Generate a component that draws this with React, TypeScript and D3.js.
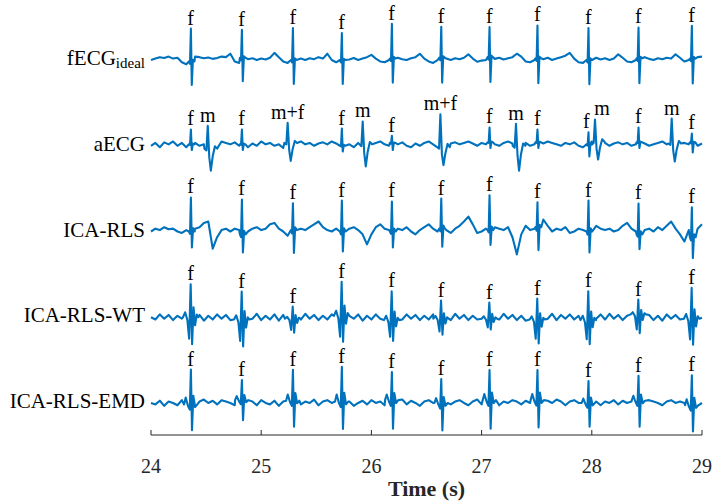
import React from 'react';
import * as d3 from 'd3';

// ---------- data ----------
const rowLabels = ['fECG', 'aECG', 'ICA-RLS', 'ICA-RLS-WT', 'ICA-RLS-EMD'];
const rowSubscripts = ['ideal', '', '', '', ''];
const timeTicks = [24, 25, 26, 27, 28, 29];
const xTitle = 'Time (s)';

const SAMPLE_START = 24;
const SAMPLE_STEP = 0.04;

// fetal R-peak times (s)
const fetalBeats = [24.36, 24.823, 25.286, 25.73, 26.184, 26.632, 27.07, 27.505, 27.968, 28.422, 28.906];
// maternal R-peak times (s) in the abdominal ECG
const maternalBeats = [24.515, 25.24, 25.921, 26.626, 27.312, 28.029, 28.725];
const maternalLabels = ['m', 'm+f', 'm', 'm+f', 'm', 'm', 'm'];

// R / S amplitudes (a.u.)
const idealUp = [1.15, 0.98, 1.12, 0.94, 1.22, 1.08, 1.05, 1.15, 1.12, 1.08, 1.15];
const idealDown = [0.82, 0.82, 0.84, 0.84, 0.84, 0.87, 0.87, 0.87, 0.85, 0.87, 0.87];
const aecgFetalUp = [0.52, 0.52, 0, 0.6, 0.25, 0, 0.52, 0.45, 0.42, 0.52, 0.31];
const aecgFetalDown = [0.2, 0.2, 0, 0.2, 0.25, 0, 0.2, 0.2, 0.42, 0.2, 0.35];
const aecgMaternalUp = [0.8, 0.7, 0.8, 1.15, 0.77, 0.77, 0.87];
const aecgMaternalDown = [0.77, 0.63, 0.77, 0.63, 0.87, 0.63, 0.63];
const rlsUp = [1.19, 1.22, 0.94, 1.08, 1.05, 1.05, 1.22, 0.87, 1.08, 1.08, 1.05];
const rlsDown = [0.56, 0.63, 0.8, 0.7, 0.56, 0.63, 0.52, 0.8, 0.73, 0.52, 0.73];
const wtUp = [1.15, 0.98, 0.42, 1.19, 1.01, 0.63, 0.56, 0.73, 1.01, 0.52, 1.08];
const wtDown = [0.94, 0.94, 0.49, 0.91, 0.73, 0.56, 0.38, 0.84, 0.84, 0.66, 0.91];
const emdUp = [1.22, 0.7, 1.08, 1.22, 0.98, 0.84, 1.05, 1.05, 0.77, 0.87, 1.05];
const emdDown = [0.9, 0.7, 0.91, 0.96, 1.0, 0.96, 1.0, 0.96, 0.83, 0.91, 0.92];

// complex shapes: [time offset (s), R weight, S weight]
const qrsIdeal = [[-0.016, 0, 0], [-0.006, 0, 0.1], [0.002, 1, 0], [0.01, 0, 1], [0.02, 0.05, 0], [0.034, 0, 0]];
const qrsMaternal = [[-0.03, 0, 0], [-0.012, 0, 0.08], [0, 1, 0], [0.014, 0, 0.4], [0.028, 0, 1], [0.045, 0, 0.35], [0.065, 0.1, 0], [0.085, 0, 0]];
const qrsRls = [[-0.016, 0, 0], [-0.006, 0, 0.15], [0.002, 1, 0], [0.011, 0, 1], [0.022, 0.1, 0], [0.036, 0, 0]];
const qrsWt = [[-0.07, 0, 0], [-0.05, 0.15, 0], [-0.03, 0, 0.1], [-0.014, 0, 0.8], [0, 1, 0], [0.013, 0, 1], [0.026, 0.3, 0], [0.04, 0, 0.3], [0.055, 0.08, 0], [0.07, 0, 0]];
const qrsEmd = [[-0.06, 0, 0], [-0.045, 0.2, 0], [-0.025, 0, 0.05], [-0.008, 0, 0.2], [0.002, 1, 0], [0.012, 0, 1], [0.024, 0.25, 0], [0.04, 0, 0.1], [0.06, 0, 0]];

// background activity sampled every 0.04 s from 24 s (a.u.)
const idealBase = [
  0.00, 0.05, 0.10, 0.07, 0.12, 0.05, 0.08, -0.08, -0.15, -0.05,
  0.12, 0.10, 0.06, 0.09, 0.04, 0.07, 0.12, 0.10, 0.22, -0.05,
  -0.10, 0.08, 0.03, 0.06, 0.00, 0.05, 0.02, 0.08, 0.25, 0.10,
  -0.05, -0.10, 0.00, 0.10, 0.05, 0.00, 0.06, 0.03, 0.10, 0.05,
  0.22, 0.00, -0.08, 0.00, 0.08, 0.02, 0.07, 0.00, 0.05, 0.10,
  0.18, 0.05, -0.05, -0.08, 0.00, 0.05, 0.08, 0.03, 0.00, 0.06,
  0.10, 0.22, 0.05, -0.05, -0.10, 0.00, 0.08, 0.05, 0.00, 0.06,
  0.03, 0.08, 0.20, 0.05, -0.06, -0.02, 0.00, 0.10, 0.04, 0.08,
  0.02, 0.06, 0.10, 0.22, 0.12, -0.05, -0.08, 0.00, 0.06, 0.03,
  0.08, 0.00, 0.05, 0.10, 0.15, 0.25, 0.05, -0.08, -0.10, 0.00,
  0.05, 0.08, 0.02, 0.06, 0.00, 0.05, 0.20, 0.08, -0.05, -0.08,
  0.00, 0.06, 0.10, 0.04, 0.00, 0.06, 0.03, 0.08, 0.05, 0.20,
  0.08, -0.05, 0.00, 0.05, 0.10, 0.12,
];
const aecgBase = [
  0.00, 0.10, -0.05, 0.12, 0.05, 0.15, 0.00, 0.10, -0.05, 0.05,
  0.10, 0.00, 0.05, -0.10, -0.05, 0.08, 0.15, 0.10, 0.05, 0.12,
  0.00, 0.05, -0.05, 0.08, 0.00, 0.15, 0.05, 0.10, 0.00, 0.05,
  -0.08, 0.10, 0.05, 0.08, 0.15, 0.05, 0.10, 0.00, 0.08, 0.12,
  0.05, 0.15, 0.08, 0.00, 0.10, 0.05, -0.05, 0.10, 0.05, 0.12,
  0.00, 0.10, 0.15, 0.05, 0.00, 0.10, 0.05, 0.12, 0.00, -0.05,
  0.08, 0.00, 0.10, 0.15, 0.05, 0.00, -0.05, 0.10, 0.08, 0.12,
  0.05, 0.10, 0.15, 0.08, 0.00, 0.10, 0.05, 0.12, 0.05, 0.00,
  0.10, 0.15, 0.08, 0.00, 0.05, 0.10, 0.00, 0.05, 0.12, 0.08,
  0.15, 0.10, 0.05, 0.00, 0.10, 0.05, 0.12, 0.00, -0.05, 0.05,
  0.10, 0.15, 0.05, 0.10, 0.00, 0.08, 0.12, 0.05, 0.10, 0.00,
  0.05, 0.12, 0.08, 0.00, 0.05, 0.10, 0.15, 0.05, 0.08, 0.00,
  -0.05, 0.10, 0.05, 0.12, 0.00, 0.08,
];
const rlsBase = [
  0.00, 0.10, 0.05, 0.15, 0.08, 0.10, 0.00, -0.05, 0.05, 0.00,
  0.10, 0.15, 0.30, 0.35, -0.60, -0.20, 0.05, 0.10, 0.00, 0.10,
  0.05, -0.10, 0.00, 0.10, 0.15, 0.05, 0.10, 0.25, 0.30, 0.10,
  0.00, -0.15, 0.05, 0.00, 0.10, 0.05, 0.15, 0.25, 0.35, 0.15,
  0.05, 0.00, 0.10, 0.00, 0.05, 0.10, 0.15, 0.05, -0.10, -0.45,
  -0.10, 0.15, 0.25, 0.10, 0.05, 0.00, 0.10, 0.05, 0.15, 0.00,
  -0.10, 0.05, 0.15, 0.25, 0.10, 0.00, 0.10, 0.05, -0.05, 0.10,
  0.20, 0.35, 0.52, 0.25, -0.05, 0.00, 0.10, 0.05, 0.15, 0.10,
  0.05, 0.15, -0.20, -0.80, -0.10, 0.20, 0.05, 0.10, 0.15, 0.42,
  0.20, 0.00, 0.10, 0.05, 0.15, -0.05, 0.00, 0.10, 0.05, 0.00,
  -0.15, 0.20, 0.10, 0.05, 0.10, 0.00, 0.05, 0.20, 0.30, 0.10,
  0.00, -0.10, 0.05, 0.10, 0.00, 0.15, 0.05, 0.20, 0.35, 0.10,
  -0.10, -0.35, 0.05, -0.20, 0.10, 0.25,
];
const wtBase = [
  0.00, -0.08, 0.10, -0.05, 0.08, -0.10, 0.05, -0.05, 0.10, 0.00,
  -0.10, 0.08, -0.12, 0.05, -0.08, 0.10, -0.05, 0.08, -0.10, 0.05,
  0.00, -0.08, 0.10, -0.05, 0.12, -0.10, 0.05, -0.08, 0.10, -0.12,
  0.08, 0.00, -0.05, 0.10, -0.08, 0.12, -0.05, 0.08, -0.10, 0.05,
  -0.08, 0.10, 0.00, 0.05, -0.10, 0.08, -0.05, 0.10, -0.12, 0.05,
  -0.08, 0.10, -0.05, 0.08, 0.00, -0.10, 0.05, -0.08, 0.10, -0.05,
  0.08, -0.10, 0.05, -0.08, 0.10, 0.00, -0.05, 0.08, -0.10, 0.12,
  -0.05, 0.08, -0.10, 0.05, -0.08, 0.10, 0.00, -0.05, 0.10, -0.08,
  0.12, -0.05, 0.08, -0.10, 0.05, -0.12, 0.10, 0.00, -0.08, 0.10,
  -0.05, 0.12, -0.10, 0.08, -0.05, 0.10, -0.08, 0.05, 0.00, -0.10,
  0.08, -0.05, 0.10, -0.08, 0.12, -0.05, 0.08, -0.10, 0.05, -0.08,
  0.00, 0.10, -0.05, 0.08, -0.10, 0.05, -0.12, 0.10, -0.05, 0.08,
  -0.08, 0.05, 0.00, -0.05, 0.10, -0.02,
];
const emdBase = [
  0.00, -0.05, 0.08, -0.10, 0.05, 0.00, -0.08, 0.10, 0.05, -0.05,
  0.10, 0.05, 0.12, 0.00, 0.08, -0.05, 0.10, 0.05, 0.00, -0.08,
  0.05, 0.10, 0.00, 0.05, -0.08, 0.10, 0.00, -0.05, 0.08, -0.10,
  0.05, 0.00, 0.08, 0.10, -0.05, 0.05, 0.00, 0.12, -0.08, 0.05,
  0.10, 0.00, -0.05, 0.05, 0.15, 0.05, -0.10, 0.00, 0.08, -0.05,
  0.10, 0.00, 0.05, -0.08, 0.00, 0.10, 0.05, 0.12, -0.05, 0.08,
  0.00, -0.10, 0.05, 0.10, 0.00, 0.05, 0.00, 0.08, -0.05, 0.05,
  0.10, 0.00, -0.08, 0.05, 0.12, -0.05, 0.00, 0.10, 0.05, -0.08,
  0.05, 0.00, 0.10, 0.05, -0.05, 0.08, 0.00, 0.05, 0.10, -0.05,
  0.08, 0.00, 0.12, 0.05, -0.08, 0.05, 0.10, 0.00, 0.05, 0.00,
  0.10, 0.05, -0.08, 0.05, 0.00, 0.10, -0.05, 0.08, 0.00, 0.05,
  0.00, 0.08, -0.05, 0.10, 0.05, 0.00, -0.08, 0.05, 0.10, 0.00,
  0.05, 0.00, 0.05, -0.08, 0.05, 0.00,
];

// ---------- helpers ----------
type Beat = { t: number; up: number; down: number; tpl: number[][]; label: string };

function makeBeats(times: number[], up: number[], down: number[], tpl: number[][], labels: string[] | string): Beat[] {
  return times.map((t, i) => ({
    t, up: up[i], down: down[i], tpl,
    label: typeof labels === 'string' ? labels : labels[i],
  }));
}

function buildTrace(base: number[], beats: Beat[]): [number, number][] {
  const active = beats.filter((b) => b.up > 0 || b.down > 0);
  const pts: [number, number][] = [];
  base.forEach((v, i) => {
    const t = SAMPLE_START + i * SAMPLE_STEP;
    const inside = active.some(
      (b) => t >= b.t + b.tpl[0][0] && t <= b.t + b.tpl[b.tpl.length - 1][0]
    );
    if (!inside) pts.push([t, v]);
  });
  active.forEach((b) => {
    const idx = Math.min(base.length - 1, Math.max(0, Math.round((b.t - SAMPLE_START) / SAMPLE_STEP)));
    const lvl = base[idx];
    b.tpl.forEach(([dt, uw, dw]) => pts.push([b.t + dt, lvl + uw * b.up - dw * b.down]));
  });
  pts.sort((a, b) => a[0] - b[0]);
  return pts.filter((p) => p[0] >= 24 && p[0] <= 29);
}

const ROW_GAP = 3;

export default function App() {
  const W = 713;
  const H = 502;
  const x = d3.scaleLinear().domain([24, 29]).range([151, 702]);
  const y = d3.scaleLinear().domain([-13.12, 2.1]).range([435, 0]);

  const rows = [
    { base: idealBase, beats: makeBeats(fetalBeats, idealUp, idealDown, qrsIdeal, 'f') },
    {
      base: aecgBase,
      beats: [
        ...makeBeats(fetalBeats, aecgFetalUp, aecgFetalDown, qrsIdeal, 'f'),
        ...makeBeats(maternalBeats, aecgMaternalUp, aecgMaternalDown, qrsMaternal, maternalLabels),
      ],
    },
    { base: rlsBase, beats: makeBeats(fetalBeats, rlsUp, rlsDown, qrsRls, 'f') },
    { base: wtBase, beats: makeBeats(fetalBeats, wtUp, wtDown, qrsWt, 'f') },
    { base: emdBase, beats: makeBeats(fetalBeats, emdUp, emdDown, qrsEmd, 'f') },
  ];

  const line = d3
    .line<[number, number]>()
    .x((d) => x(d[0]))
    .y((d) => d[1]);

  const color = '#0072BD';
  const font = '"Liberation Serif", "Times New Roman", serif';

  return (
    <svg
      width={W}
      height={H}
      style={{ position: 'absolute', left: 0, top: 0, background: '#fff' }}
      fontFamily={font}
    >
      {rows.map((row, ri) => {
        const off = -ri * ROW_GAP;
        const pts = buildTrace(row.base, row.beats).map(
          (p) => [p[0], y(p[1] + off)] as [number, number]
        );
        const active = row.beats.filter((b) => b.up > 0);
        return (
          <g key={ri}>
            <path
              d={line(pts) || ''}
              fill="none"
              stroke={color}
              strokeWidth={2.1}
              strokeLinejoin="round"
            />
            {active.map((b, bi) => {
              const idx = Math.min(row.base.length - 1, Math.max(0, Math.round((b.t - SAMPLE_START) / SAMPLE_STEP)));
              const top = y(row.base[idx] + b.up + off);
              // nudge labels that would overlap a neighbour
              const near = active.find((o) => o !== b && Math.abs(x(o.t) - x(b.t)) < 10);
              let dx = 0;
              if (near) dx = b.label === 'f' ? -2 : 7;
              return (
                <text
                  key={bi}
                  x={x(b.t) + dx}
                  y={top - 4}
                  textAnchor="middle"
                  fontSize={20}
                  fill="#000"
                >
                  {b.label}
                </text>
              );
            })}
            <text x={145} y={y(off) + 5} textAnchor="end" fontSize={21} fill="#000">
              {rowLabels[ri]}
              {rowSubscripts[ri] ? (
                <tspan fontSize={15} dy={3}>
                  {rowSubscripts[ri]}
                </tspan>
              ) : null}
            </text>
          </g>
        );
      })}

      {/* x axis */}
      <g>
        <line x1={x(24)} x2={x(29)} y1={435} y2={435} stroke="#262626" strokeWidth={1} />
        {timeTicks.map((t) => (
          <g key={t}>
            <line x1={x(t)} x2={x(t)} y1={435} y2={430} stroke="#262626" strokeWidth={1} />
            <text x={x(t)} y={473} textAnchor="middle" fontSize={20} fill="#262626">
              {t}
            </text>
          </g>
        ))}
        <text
          x={(x(24) + x(29)) / 2}
          y={496}
          textAnchor="middle"
          fontSize={22}
          fontWeight="bold"
          fill="#262626"
        >
          {xTitle}
        </text>
      </g>
    </svg>
  );
}
